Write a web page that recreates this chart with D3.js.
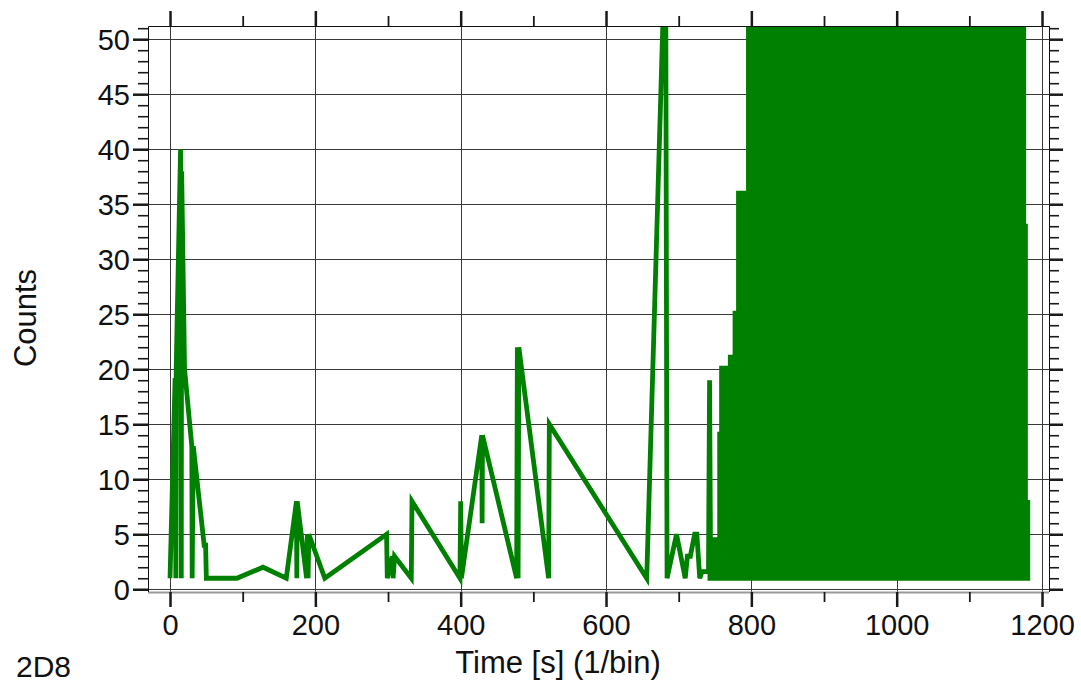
<!DOCTYPE html>
<html>
<head>
<meta charset="utf-8">
<script src="https://cdn.jsdelivr.net/npm/d3@7"></script>
<style>
  body { margin: 0; background: #fff; }
  svg { display: block; font-family: "Liberation Sans", Arial, sans-serif; }
</style>
</head>
<body>
<svg id="chart" width="1081" height="687"></svg>
<script>
// sparse part of the trace: time [s] and counts
const timeS  = [0, 7, 8, 8.5, 14.5, 15.5, 16, 20, 30, 30.5, 32, 47, 49, 50, 92, 128, 160, 174, 174.5, 175, 188, 189, 190, 191, 213,
                298, 299, 306, 307, 309, 332, 333, 399, 400, 401, 429, 429.5, 430, 477, 478, 479, 480, 521, 522, 656,
                682, 684, 697, 709, 712, 716, 722, 725, 729, 732, 741, 742.5, 744];
const counts = [1, 19.2, 1, 20, 40, 1, 38, 20, 13, 1, 13, 4, 4, 1, 1, 2, 1, 8, 1, 8, 1, 5, 1, 5, 1,
                5, 1, 3, 1, 3, 1, 8, 1, 8, 1, 14, 6, 14, 1, 22, 1, 22, 1, 15, 1,
                60, 1, 5, 1, 3, 3, 5, 5, 1, 1.6, 1.6, 19, 1];

// dense part (after ~745 s): too many points to read, so only its outline
const denseT   = [743, 743, 756.4, 756.4, 759, 759, 771, 771, 777.5, 777.5, 782.3, 782.3, 796, 796,
                  1174.8, 1174.8, 1177.2, 1177.2, 1180.4, 1180.4];
const denseTop = [1, 4.5, 4.5, 14.1, 14.1, 20.1, 20.1, 21.1, 21.1, 25.1, 25.1, 36, 36, 60,
                  60, 33, 33, 7.9, 7.9, 1];
const denseBase = 1;

const xTicks = [0, 200, 400, 600, 800, 1000, 1200];
const xMinor = [100, 300, 500, 700, 900, 1100];
const yTicks = [0, 5, 10, 15, 20, 25, 30, 35, 40, 45, 50];
const yMinor = d3.range(0, 52).filter(v => v % 5 !== 0);

const green = "#008000";
const svg = d3.select("#chart");
const frame = { left: 148, right: 1049, top: 26, bottom: 592 };

const x = d3.scaleLinear().domain([-30.3, 1209.6]).range([frame.left, frame.right]);
const y = d3.scaleLinear().domain([-0.25, 51.2]).range([frame.bottom, frame.top]);

svg.append("rect").attr("width", 1081).attr("height", 687).attr("fill", "#fff");

// grid
const grid = svg.append("g").attr("stroke", "#3a3a3a").attr("stroke-width", 1);
grid.selectAll(".vx").data(xTicks).join("line")
  .attr("x1", d => Math.round(x(d)) + 0.5).attr("x2", d => Math.round(x(d)) + 0.5)
  .attr("y1", frame.top).attr("y2", frame.bottom);
grid.selectAll(".hy").data(yTicks).join("line")
  .attr("y1", d => Math.round(y(d)) + 0.5).attr("y2", d => Math.round(y(d)) + 0.5)
  .attr("x1", frame.left).attr("x2", frame.right);

// data
svg.append("clipPath").attr("id", "plot").append("rect")
  .attr("x", frame.left).attr("y", frame.top)
  .attr("width", frame.right - frame.left).attr("height", frame.bottom - frame.top);

const plot = svg.append("g").attr("clip-path", "url(#plot)");

const area = d3.area()
  .x(d => x(d[0]))
  .y0(y(denseBase))
  .y1(d => y(d[1]));

plot.append("path")
  .datum(d3.zip(denseT, denseTop))
  .attr("d", area)
  .attr("fill", green)
  .attr("stroke", green)
  .attr("stroke-width", 4.8);

const line = d3.line().x(d => x(d[0])).y(d => y(d[1]));

plot.append("path")
  .datum(d3.zip(timeS, counts))
  .attr("d", line)
  .attr("fill", "none")
  .attr("stroke", green)
  .attr("stroke-width", 4.8);

// frame
svg.append("line").attr("x1", frame.left).attr("x2", frame.right)
  .attr("y1", frame.bottom + 0.5).attr("y2", frame.bottom + 0.5)
  .attr("stroke", "#9a9a9a").attr("stroke-width", 2);
svg.append("path")
  .attr("d", `M${frame.left + 0.5},${frame.bottom}V${frame.top + 0.5}H${frame.right + 0.5}V${frame.bottom}`)
  .attr("fill", "none").attr("stroke", "#111").attr("stroke-width", 1);

// axes
function axisG(axis, tx, ty, width) {
  const g = svg.append("g").attr("transform", `translate(${tx},${ty})`).call(axis);
  g.select(".domain").remove();
  g.selectAll(".tick line").attr("stroke", "#1a1a1a").attr("stroke-width", width);
  g.selectAll(".tick text")
    .attr("fill", "#111")
    .style("font-size", "29px")
    .style("font-family", "\"Liberation Sans\", Arial, sans-serif");
  return g;
}

axisG(d3.axisBottom(x).tickValues(xTicks).tickSize(15).tickPadding(7).tickFormat(d3.format("d")), 0, frame.bottom, 2.5);
axisG(d3.axisBottom(x).tickValues(xMinor).tickSize(10).tickFormat(""), 0, frame.bottom, 1.8);
axisG(d3.axisTop(x).tickValues(xTicks).tickSize(15).tickFormat(""), 0, frame.top, 2.5);
axisG(d3.axisTop(x).tickValues(xMinor).tickSize(10).tickFormat(""), 0, frame.top, 1.8);

axisG(d3.axisLeft(y).tickValues(yTicks).tickSize(15).tickPadding(3), frame.left, 0, 2.5)
  .selectAll(".tick text").attr("dy", "0.36em");
axisG(d3.axisLeft(y).tickValues(yMinor).tickSize(10).tickFormat(""), frame.left, 0, 1.6);
axisG(d3.axisRight(y).tickValues(yTicks).tickSize(14).tickFormat(""), frame.right, 0, 2.5);
axisG(d3.axisRight(y).tickValues(yMinor).tickSize(10).tickFormat(""), frame.right, 0, 1.6);

// labels
svg.append("text")
  .attr("x", 558).attr("y", 673)
  .attr("text-anchor", "middle")
  .style("font-size", "31px").attr("fill", "#111")
  .text("Time [s] (1/bin)");

svg.append("text")
  .attr("transform", "translate(36,318) rotate(-90)")
  .attr("text-anchor", "middle")
  .style("font-size", "31px").attr("fill", "#111")
  .text("Counts");

svg.append("text")
  .attr("x", 16).attr("y", 677)
  .style("font-size", "30px").attr("fill", "#111")
  .text("2D8");
</script>
</body>
</html>
